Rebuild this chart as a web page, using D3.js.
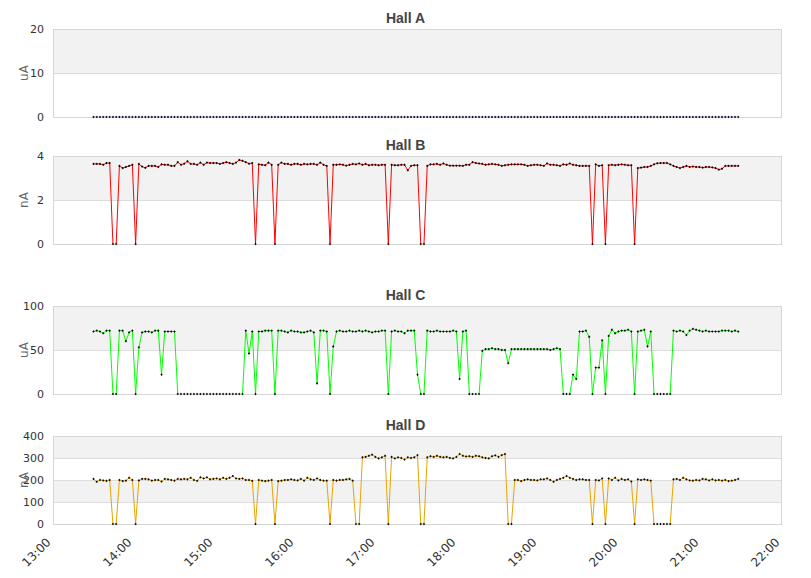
<!DOCTYPE html>
<html>
<head>
<meta charset="utf-8">
<script src="https://cdn.jsdelivr.net/npm/d3@7"></script>
<style>
  body { margin: 0; background: #fff; }
  svg { display: block; }
</style>
</head>
<body>
<div class="chart"></div>
<script>
// sampling grid of the beam current log
const startTime = "13:30:00";
const stepSeconds = 144;

const hallNames = ["Hall A", "Hall B", "Hall C", "Hall D"];
const hallUnits = ["uA", "nA", "uA", "nA"];
const hallMax = [20, 4, 100, 400];
const hallTicks = [[0, 10, 20], [0, 2, 4], [0, 50, 100], [0, 100, 200, 300, 400]];
const timeTicks = ["13:00", "14:00", "15:00", "16:00", "17:00", "18:00", "19:00", "20:00", "21:00", "22:00"];

const hallA = [
    0, 0, 0, 0, 0, 0, 0, 0, 0, 0, 0, 0, 0, 0, 0, 0, 0, 0, 0, 0,
    0, 0, 0, 0, 0, 0, 0, 0, 0, 0, 0, 0, 0, 0, 0, 0, 0, 0, 0, 0,
    0, 0, 0, 0, 0, 0, 0, 0, 0, 0, 0, 0, 0, 0, 0, 0, 0, 0, 0, 0,
    0, 0, 0, 0, 0, 0, 0, 0, 0, 0, 0, 0, 0, 0, 0, 0, 0, 0, 0, 0,
    0, 0, 0, 0, 0, 0, 0, 0, 0, 0, 0, 0, 0, 0, 0, 0, 0, 0, 0, 0,
    0, 0, 0, 0, 0, 0, 0, 0, 0, 0, 0, 0, 0, 0, 0, 0, 0, 0, 0, 0,
    0, 0, 0, 0, 0, 0, 0, 0, 0, 0, 0, 0, 0, 0, 0, 0, 0, 0, 0, 0,
    0, 0, 0, 0, 0, 0, 0, 0, 0, 0, 0, 0, 0, 0, 0, 0, 0, 0, 0, 0,
    0, 0, 0, 0, 0, 0, 0, 0, 0, 0, 0, 0, 0, 0, 0, 0, 0, 0, 0, 0,
    0, 0, 0, 0, 0, 0, 0, 0, 0, 0, 0, 0, 0, 0, 0, 0, 0, 0, 0, 0
];

const hallB = [
    3.64, 3.64, 3.64, 3.6, 3.68, 3.68, 0, 0, 3.55, 3.45,
    3.5, 3.55, 3.6, 0, 3.64, 3.52, 3.46, 3.55, 3.55, 3.55,
    3.5, 3.62, 3.6, 3.6, 3.55, 3.55, 3.72, 3.6, 3.65, 3.76,
    3.64, 3.64, 3.6, 3.7, 3.6, 3.7, 3.68, 3.68, 3.68, 3.64,
    3.68, 3.72, 3.68, 3.64, 3.7, 3.82, 3.78, 3.72, 3.65, 3.68,
    0, 3.62, 3.6, 3.58, 3.7, 3.6, 0, 3.6, 3.7, 3.64,
    3.64, 3.6, 3.64, 3.64, 3.6, 3.64, 3.62, 3.64, 3.64, 3.6,
    3.7, 3.6, 3.55, 0, 3.6, 3.6, 3.62, 3.6, 3.56, 3.6,
    3.64, 3.62, 3.66, 3.6, 3.64, 3.58, 3.6, 3.6, 3.58, 3.6,
    3.6, 0, 3.6, 3.58, 3.58, 3.6, 3.6, 3.35, 3.55, 3.58,
    3.58, 0, 0, 3.55, 3.62, 3.62, 3.64, 3.6, 3.66, 3.6,
    3.56, 3.56, 3.56, 3.56, 3.55, 3.6, 3.6, 3.72, 3.68, 3.66,
    3.64, 3.6, 3.62, 3.64, 3.62, 3.6, 3.55, 3.58, 3.6, 3.62,
    3.62, 3.62, 3.62, 3.6, 3.55, 3.58, 3.6, 3.6, 3.58, 3.55,
    3.66, 3.6, 3.6, 3.58, 3.55, 3.62, 3.6, 3.66, 3.6, 3.58,
    3.55, 3.55, 3.55, 3.55, 0, 3.62, 3.55, 3.58, 0, 3.58,
    3.6, 3.58, 3.6, 3.62, 3.6, 3.58, 3.58, 0, 3.45, 3.47,
    3.5, 3.5, 3.55, 3.62, 3.67, 3.68, 3.68, 3.68, 3.62, 3.55,
    3.5, 3.45, 3.5, 3.55, 3.5, 3.52, 3.5, 3.5, 3.47, 3.5,
    3.5, 3.48, 3.45, 3.38, 3.42, 3.55, 3.55, 3.55, 3.55, 3.55
];

const hallC = [
    71, 72, 71, 69, 72, 72, 0, 0, 72, 72,
    60, 70, 72, 0, 53, 70, 71, 71, 70, 72,
    72, 22, 71, 71, 71, 71, 0, 0, 0, 0,
    0, 0, 0, 0, 0, 0, 0, 0, 0, 0,
    0, 0, 0, 0, 0, 0, 0, 72, 46, 71,
    0, 71, 71, 72, 72, 72, 0, 72, 72, 71,
    70, 72, 71, 71, 70, 70, 71, 72, 70, 12,
    72, 72, 71, 0, 54, 71, 72, 71, 71, 72,
    71, 71, 72, 71, 72, 71, 70, 71, 71, 72,
    72, 0, 71, 72, 71, 71, 69, 72, 72, 72,
    22, 0, 0, 72, 71, 71, 72, 71, 71, 71,
    71, 72, 71, 17, 71, 72, 0, 0, 0, 0,
    49, 51, 51, 52, 51, 51, 50, 50, 35, 51,
    51, 51, 51, 51, 51, 51, 51, 51, 51, 51,
    51, 50, 51, 52, 51, 0, 0, 0, 22, 17,
    71, 71, 72, 65, 0, 30, 30, 61, 0, 66,
    73, 69, 71, 72, 72, 73, 71, 0, 71, 72,
    73, 54, 71, 0, 0, 0, 0, 0, 0, 72,
    71, 72, 71, 67, 72, 74, 73, 72, 71, 72,
    71, 71, 71, 71, 72, 72, 72, 71, 72, 71
];

const hallD = [
    205, 192, 200, 198, 196, 200, 0, 0, 200, 195,
    197, 210, 200, 0, 198, 205, 205, 203, 197, 200,
    200, 193, 205, 203, 200, 197, 205, 203, 205, 203,
    210, 200, 196, 212, 207, 212, 203, 205, 207, 203,
    210, 205, 210, 218, 207, 205, 207, 200, 200, 196,
    0, 200, 197, 195, 197, 200, 0, 195, 197, 200,
    200, 203, 200, 198, 205, 197, 210, 203, 200, 207,
    200, 197, 197, 0, 200, 197, 200, 200, 203, 205,
    197, 0, 0, 303, 305, 310, 315, 305, 298, 303,
    310, 0, 305, 298, 303, 300, 293, 303, 300, 303,
    313, 0, 0, 303, 308, 305, 310, 305, 303, 305,
    300, 298, 305, 318, 310, 307, 308, 305, 310, 308,
    303, 300, 298, 308, 312, 305, 313, 318, 0, 0,
    200, 200, 195, 200, 203, 200, 200, 198, 203, 203,
    207, 200, 192, 200, 205, 210, 218, 210, 205, 200,
    203, 203, 200, 200, 0, 200, 198, 207, 0, 207,
    200, 210, 198, 205, 200, 203, 193, 0, 203, 200,
    203, 200, 197, 0, 0, 0, 0, 0, 0, 203,
    205, 200, 210, 203, 198, 197, 200, 198, 205, 203,
    198, 203, 198, 200, 197, 200, 195, 197, 200, 205
];

const hallSeries = [hallA, hallB, hallC, hallD];
const lineColors = ["#0000ff", "#ff0000", "#00ff00", "#e8a400"];

const width = 811, height = 578;
const plotLeft = 53, plotRight = 782;
const plotTops = [29, 156, 306, 436];
const plotHeight = 88;

const day = "2013-01-01";
const parseTime = d3.timeParse("%Y-%m-%d %H:%M:%S");
const parseTick = d3.timeParse("%Y-%m-%d %H:%M");
const t0 = parseTime(day + " " + startTime);

const svg = d3.select(".chart").append("svg")
    .attr("width", width)
    .attr("height", height)
    .style("font-family", "'DejaVu Sans', sans-serif");

const defs = svg.append("defs");

const xScale = d3.scaleTime()
    .domain([parseTick(day + " " + timeTicks[0]), parseTick(day + " " + timeTicks[timeTicks.length - 1])])
    .range([plotLeft, plotRight]);

const drawHall = (k) => {
    const values = hallSeries[k];
    const datas = values.map((v, i) => [d3.timeSecond.offset(t0, i * stepSeconds), v]);
    const top = plotTops[k];
    const bottom = top + plotHeight;

    const yScale = d3.scaleLinear().domain([0, hallMax[k]]).range([bottom, top]);
    const ticks = hallTicks[k];

    const g = svg.append("g");

    // alternating bands, grey from the top
    const bands = d3.pairs(ticks.slice().reverse());
    g.append("g").selectAll("rect")
        .data(bands)
        .enter()
        .append("rect")
        .attr("x", plotLeft)
        .attr("width", plotRight - plotLeft)
        .attr("y", d => yScale(d[0]))
        .attr("height", d => yScale(d[1]) - yScale(d[0]))
        .style("fill", (d, i) => i % 2 == 0 ? "#f2f2f2" : "#ffffff");

    // y axis without domain line and tick marks
    const yAxis = g.append("g")
        .attr("transform", "translate(" + plotLeft + ",0)")
        .call(d3.axisLeft(yScale).tickValues(ticks).tickFormat(d3.format("d"))
            .tickSize(-(plotRight - plotLeft)).tickPadding(9));
    yAxis.select(".domain").remove();
    yAxis.selectAll(".tick line")
        .attr("shape-rendering", "crispEdges")
        .style("stroke", "#dcdcdc");
    yAxis.selectAll(".tick text")
        .style("font-family", "'DejaVu Sans', sans-serif")
        .style("font-size", "11px")
        .style("fill", "#333");

    g.append("text")
        .attr("transform", "translate(" + 28 + "," + (top + plotHeight / 2) + ") rotate(-90)")
        .attr("text-anchor", "middle")
        .style("font-size", "12px")
        .style("fill", "#666")
        .text(hallUnits[k]);

    g.append("text")
        .attr("x", width / 2)
        .attr("y", top - 6)
        .attr("text-anchor", "middle")
        .style("font-family", "'Liberation Sans', Arial, sans-serif")
        .style("font-weight", "bold")
        .style("font-size", "14px")
        .style("fill", "#444")
        .text(hallNames[k]);

    // clip the line just above the bottom edge: runs at zero show only their markers
    defs.append("clipPath")
        .attr("id", "clip" + k)
        .append("rect")
        .attr("x", plotLeft)
        .attr("y", top)
        .attr("width", plotRight - plotLeft)
        .attr("height", plotHeight - 0.7);

    var line = d3.line()
        .x(d => xScale(d[0]))
        .y(d => yScale(d[1]));

    g.append("path")
        .datum(datas)
        .attr("d", line)
        .attr("clip-path", "url(#clip" + k + ")")
        .style("fill", "none")
        .style("stroke", lineColors[k])
        .style("stroke-width", "1");

    g.append("rect")
        .attr("x", plotLeft + 0.5)
        .attr("y", top + 0.5)
        .attr("width", plotRight - plotLeft - 1)
        .attr("height", plotHeight)
        .attr("shape-rendering", "crispEdges")
        .style("fill", "none")
        .style("stroke", "#d6d6d6");

    g.append("g")
        .selectAll("path")
        .data(datas)
        .enter()
        .append("path")
        .attr("transform", d => "translate(" + xScale(d[0]) + "," + yScale(d[1]) + ")")
        .attr("d", "M-1,0H1M0,-1.1V1.1")
        .style("stroke", "#000")
        .style("stroke-width", "0.9");

    return bottom;
};

let lastBottom = 0;
for (let k = 0; k < hallNames.length; k++) {
    lastBottom = drawHall(k);
}

// shared time axis under the last panel
const xAxis = svg.append("g")
    .attr("transform", "translate(0," + lastBottom + ")")
    .call(d3.axisBottom(xScale)
        .tickValues(timeTicks.map(t => parseTick(day + " " + t)))
        .tickFormat(d3.timeFormat("%H:%M"))
        .tickSize(0));
xAxis.select(".domain").remove();
xAxis.selectAll(".tick text")
    .attr("text-anchor", "end")
    .attr("dy", "0.35em")
    .attr("y", 0)
    .attr("transform", "translate(-5,16) rotate(-45)")
    .style("font-family", "'DejaVu Sans', sans-serif")
    .style("font-size", "12px")
    .style("fill", "#333");
</script>
</body>
</html>
